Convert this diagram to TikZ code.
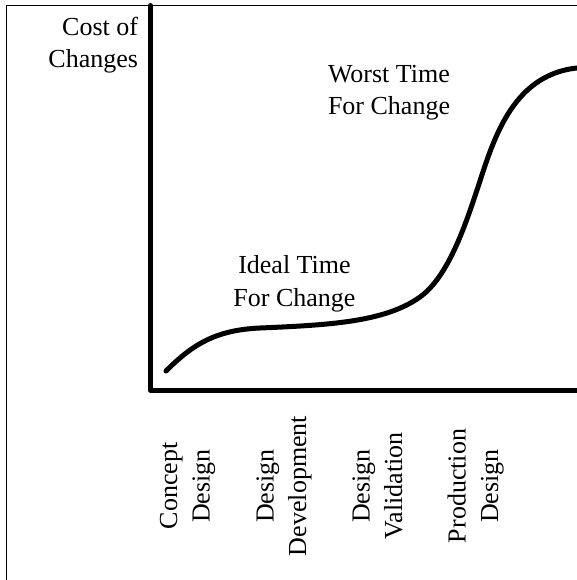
\documentclass[tikz,border=0pt]{standalone}
\usepackage{fontspec}
\setmainfont{Liberation Serif}
\begin{document}
\begin{tikzpicture}[x=1pt,y=-1pt,
  lbl/.style={font=\fontsize{26}{32.5}\selectfont, inner sep=0pt, outer sep=0pt, align=center},
  vlbl/.style={lbl, rotate=90, anchor=north},
  axisline/.style={line width=5pt, line cap=round, line join=round},
  curveline/.style={line width=5pt, line cap=round},
  frameline/.style={line width=1.3pt}]
\useasboundingbox (0,0) rectangle (577,580);
\clip (0,0) rectangle (577,580);
\fill[white] (0,0) rectangle (577,580);
% frame (cropped)
\coordinate (fbl) at (6.7,600);
\coordinate (ftl) at (6.7,5.7);
\coordinate (ftr) at (600,5.7);
\draw[frameline] (fbl) -- (ftl) -- (ftr);
% axes
\coordinate (ytop) at (150.5,5.5);
\coordinate (orig) at (150.5,390.3);
\coordinate (xend) at (600,390.3);
\draw[axisline] (ytop) -- (orig) -- (xend);
% curve
\coordinate (c0) at (166,371);
\coordinate (c1) at (260,328);
\coordinate (c2) at (420,297);
\coordinate (c3) at (477,190);
\coordinate (c4) at (577,68);
\coordinate (c5) at (600,66);
\draw[curveline] (c0) .. controls (192,345) and (215,330) .. (c1)
  .. controls (330,325) and (385,322) .. (c2)
  .. controls (448,277) and (465,226) .. (c3)
  .. controls (492,145) and (510,75) .. (c4) -- (c5);
% labels
\node[lbl, align=right, anchor=north east] (cost) at (138,17) {Cost of\\Changes};
\node[lbl, align=left, anchor=north west] (worst) at (328,65) {Worst Time\\For Change};
\node[lbl, anchor=north] (ideal) at (294.5,255.5) {Ideal Time\\For Change};
\node[vlbl] (concept) at (160,486) {Concept\\Design};
\node[vlbl] (develop) at (256.5,486) {Design\\Development};
\node[vlbl] (valid) at (352.5,486) {Design\\Validation};
\node[vlbl] (prod) at (447.5,486) {Production\\Design};
\end{tikzpicture}
\end{document}
